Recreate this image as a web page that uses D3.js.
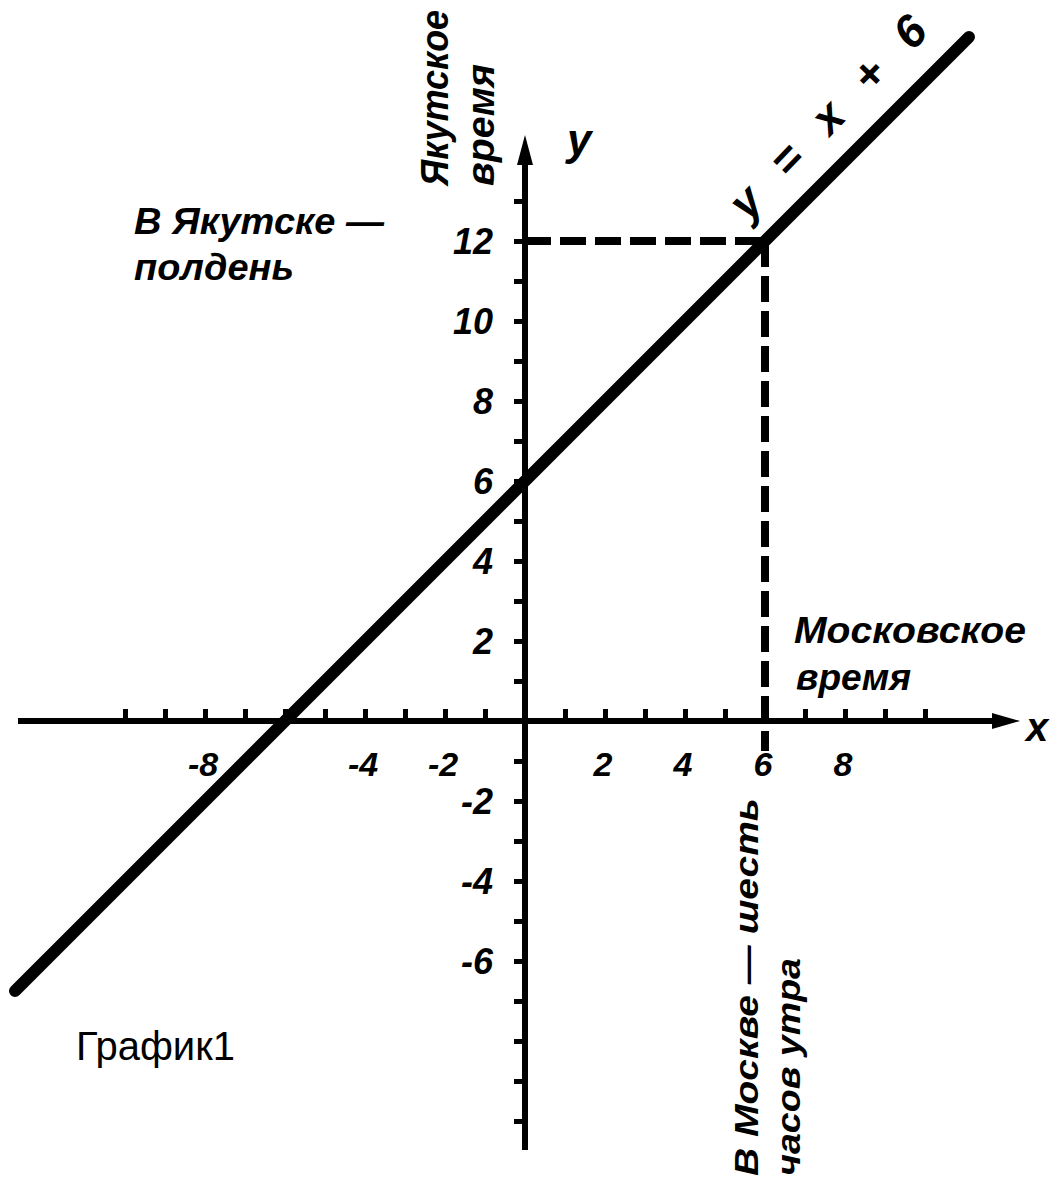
<!DOCTYPE html>
<html>
  <head>
  <meta charset="utf-8">
  <title>График1</title>
  </head>
  <body>
  <style>
    body, html {
      margin: 0;
      padding: 0;
      background: #fff;
    }
    svg text {
      font-family: "Liberation Sans", Arial, sans-serif;
      fill: #000;
    }
    .lbl {
      font-weight: bold;
      font-style: italic;
    }
  </style>

  <svg id="svg" width="1057" height="1179"></svg>

  <script src="https://cdn.jsdelivr.net/npm/d3@7"></script>
  <script>
    // data
    const xTicks = d3.range(-10, 11)           // tick marks on x axis
    const yTicks = d3.range(-10, 14)           // tick marks on y axis
    const xLabels = [-8, -4, -2, 2, 4, 6, 8]
    const yLabels = [12, 10, 8, 6, 4, 2, -2, -4, -6]
    const lineX = [-12.75, 11.1]               // ends of y = x + 6
    const moscow = 6                           // Moscow time
    const yakutsk = 12                         // Yakutsk time

    const svg = d3.select('#svg')

    const x = d3.scaleLinear().domain([-10, 10]).range([125, 925])
    const y = d3.scaleLinear().domain([-10, 12]).range([1121, 241])

    // axes lines with arrows
    svg.append('line')
      .attr('x1', 18).attr('x2', 1000)
      .attr('y1', y(0)).attr('y2', y(0))
      .attr('stroke', '#000').attr('stroke-width', 6)
    svg.append('path')
      .attr('d', `M${1020},${y(0)} L${992},${y(0) - 8} L${992},${y(0) + 8} Z`)
      .attr('fill', '#000')

    svg.append('line')
      .attr('x1', x(0)).attr('x2', x(0))
      .attr('y1', 1150).attr('y2', 160)
      .attr('stroke', '#000').attr('stroke-width', 6)
    svg.append('path')
      .attr('d', `M${x(0)},${135} L${x(0) - 8},${165} L${x(0) + 8},${165} Z`)
      .attr('fill', '#000')

    // tick marks
    const xAxis = d3.axisTop(x).tickValues(xTicks).tickSize(12).tickFormat('')
    svg.append('g')
      .attr('transform', `translate(0,${y(0)})`)
      .call(xAxis)
      .call(g => g.select('.domain').remove())
      .call(g => g.selectAll('.tick line').attr('stroke', '#000').attr('stroke-width', 5))

    const yAxis = d3.axisLeft(y).tickValues(yTicks).tickSize(11).tickFormat('')
    svg.append('g')
      .attr('transform', `translate(${x(0)},0)`)
      .call(yAxis)
      .call(g => g.select('.domain').remove())
      .call(g => g.selectAll('.tick line').attr('stroke', '#000').attr('stroke-width', 5))

    // tick labels
    svg.selectAll('.xl')
      .data(xLabels)
      .enter()
      .append('text')
      .attr('class', 'lbl')
      .attr('x', d => x(d) - 2)
      .attr('y', y(0) + 55)
      .attr('text-anchor', 'middle')
      .attr('font-size', 34)
      .text(d => d)

    svg.selectAll('.yl')
      .data(yLabels)
      .enter()
      .append('text')
      .attr('class', 'lbl')
      .attr('x', x(0) - 32)
      .attr('y', d => y(d) + 13)
      .attr('text-anchor', 'end')
      .attr('font-size', 36)
      .text(d => d)

    // dashed guides
    svg.append('line')
      .attr('x1', x(0)).attr('x2', x(moscow))
      .attr('y1', y(yakutsk)).attr('y2', y(yakutsk))
      .attr('stroke', '#000').attr('stroke-width', 8)
      .attr('stroke-dasharray', '26,9')
    svg.append('line')
      .attr('x1', x(moscow)).attr('x2', x(moscow))
      .attr('y1', y(yakutsk)).attr('y2', y(0) + 30)
      .attr('stroke', '#000').attr('stroke-width', 8)
      .attr('stroke-dasharray', '26,9')

    // the function line
    const linegen = d3.line()
      .x(d => x(d))
      .y(d => y(d + 6))
    svg.append('path')
      .attr('d', linegen(lineX))
      .attr('stroke', '#000')
      .attr('stroke-width', 12)
      .attr('fill', 'none')
      .attr('stroke-linecap', 'round')

    // labels
    svg.append('text').attr('class', 'lbl')
      .attr('x', 567).attr('y', 155).attr('font-size', 44)
      .text('y')
    svg.append('text').attr('class', 'lbl')
      .attr('x', 1026).attr('y', y(0) + 20).attr('font-size', 40)
      .text('x')

    svg.append('text').attr('class', 'lbl')
      .attr('transform', 'translate(448,186) rotate(-90)')
      .attr('font-size', 38).attr('textLength', 176).attr('lengthAdjust', 'spacingAndGlyphs')
      .text('Якутское')
    svg.append('text').attr('class', 'lbl')
      .attr('transform', 'translate(494,186) rotate(-90)')
      .attr('font-size', 38).attr('textLength', 122).attr('lengthAdjust', 'spacingAndGlyphs')
      .text('время')

    svg.append('text').attr('class', 'lbl')
      .attr('x', 134).attr('y', 234).attr('font-size', 36)
      .attr('textLength', 250).attr('lengthAdjust', 'spacingAndGlyphs')
      .text('В Якутске —')
    svg.append('text').attr('class', 'lbl')
      .attr('x', 134).attr('y', 280).attr('font-size', 36)
      .attr('textLength', 160).attr('lengthAdjust', 'spacingAndGlyphs')
      .text('полдень')

    svg.append('text').attr('class', 'lbl')
      .attr('x', 794).attr('y', 643).attr('font-size', 36)
      .attr('textLength', 232).attr('lengthAdjust', 'spacingAndGlyphs')
      .text('Московское')
    svg.append('text').attr('class', 'lbl')
      .attr('x', 796).attr('y', 690).attr('font-size', 36)
      .attr('textLength', 115).attr('lengthAdjust', 'spacingAndGlyphs')
      .text('время')

    svg.append('text').attr('class', 'lbl')
      .attr('transform', 'translate(758,1176) rotate(-90)')
      .attr('font-size', 34).attr('textLength', 378).attr('lengthAdjust', 'spacingAndGlyphs')
      .text('В Москве — шесть')
    svg.append('text').attr('class', 'lbl')
      .attr('transform', 'translate(800,1176) rotate(-90)')
      .attr('font-size', 34).attr('textLength', 218).attr('lengthAdjust', 'spacingAndGlyphs')
      .text('часов утра')

    svg.append('text').attr('class', 'lbl')
      .attr('transform', 'translate(748,222) rotate(-46)')
      .attr('font-size', 46).attr('textLength', 262).attr('lengthAdjust', 'spacing')
      .text('y = x + 6')

    svg.append('text')
      .attr('x', 76).attr('y', 1060)
      .attr('font-size', 40)
      .text('График1')
  </script>
  </body>
</html>
